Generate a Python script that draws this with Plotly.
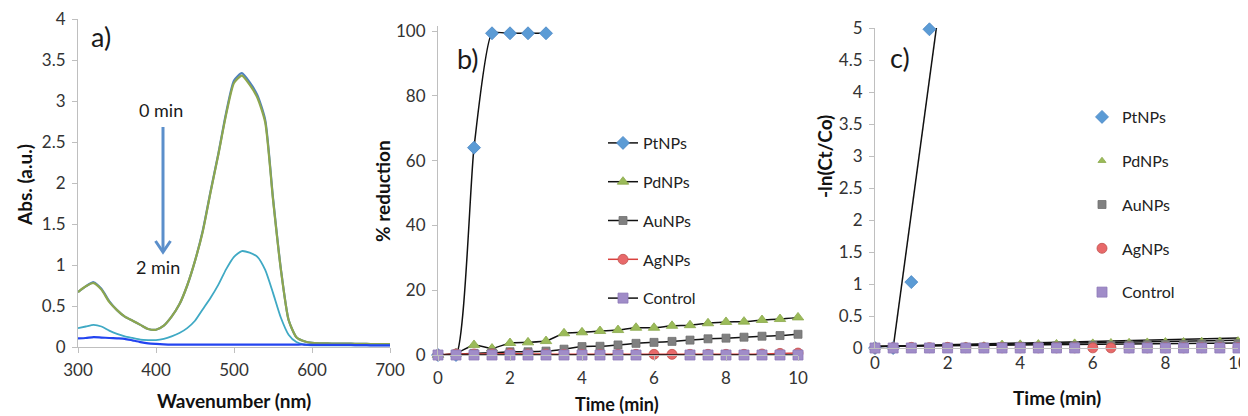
import plotly.graph_objects as go

# The page body has an 8px margin; the figure is sized/positioned to compensate.
OFF = 8
W, H = 1248 - OFF, 416 - OFF
def px(x): return (x - OFF) / W
def py(y): return 1 - (y - OFF) / H

FONT = "Lato"

# ---------------- panel a: UV-vis spectra ----------------
wavelength = [300, 310, 320, 330, 340, 350, 360, 370, 380, 390,
              400, 410, 420, 430, 440, 450, 460, 470, 480, 490,
              500, 510, 520, 530, 540, 550, 560, 570, 580, 590,
              600, 610, 620, 630, 640, 650, 660, 670, 680, 690, 700]
abs_0min = [0.67, 0.74, 0.79, 0.71, 0.56, 0.45, 0.37, 0.32, 0.27, 0.22,
            0.21, 0.26, 0.37, 0.52, 0.75, 1.05, 1.42, 1.90, 2.36, 2.86,
            3.25, 3.34, 3.23, 3.07, 2.77, 1.82, 0.96, 0.33, 0.12, 0.07,
            0.05, 0.045, 0.043, 0.042, 0.04, 0.04, 0.038, 0.037, 0.036, 0.035, 0.035]
abs_1min = [0.67, 0.74, 0.78, 0.70, 0.55, 0.45, 0.37, 0.32, 0.27, 0.22,
            0.21, 0.26, 0.37, 0.52, 0.75, 1.05, 1.41, 1.89, 2.35, 2.84,
            3.22, 3.31, 3.20, 3.04, 2.74, 1.80, 0.95, 0.33, 0.12, 0.07,
            0.05, 0.045, 0.043, 0.042, 0.04, 0.04, 0.038, 0.037, 0.036, 0.035, 0.035]
abs_1_5min = [0.23, 0.25, 0.27, 0.25, 0.20, 0.16, 0.13, 0.11, 0.09, 0.085,
              0.085, 0.10, 0.13, 0.17, 0.23, 0.32, 0.46, 0.60, 0.76, 0.95,
              1.10, 1.17, 1.15, 1.10, 0.94, 0.66, 0.36, 0.15, 0.06, 0.03,
              0.02, 0.02, 0.02, 0.02, 0.02, 0.02, 0.02, 0.02, 0.02, 0.02, 0.02]
abs_2min = [0.105, 0.11, 0.12, 0.115, 0.11, 0.105, 0.10, 0.08, 0.06, 0.045,
            0.038, 0.033, 0.03, 0.03, 0.03, 0.03, 0.03, 0.03, 0.03, 0.03,
            0.03, 0.03, 0.03, 0.03, 0.03, 0.03, 0.03, 0.03, 0.03, 0.03,
            0.025, 0.025, 0.025, 0.025, 0.025, 0.025, 0.022, 0.022, 0.02, 0.02, 0.02]

# ---------------- panel b: % reduction ----------------
time = [0, 0.5, 1, 1.5, 2, 2.5, 3, 3.5, 4, 4.5, 5, 5.5, 6, 6.5, 7, 7.5, 8, 8.5, 9, 9.5, 10]
time_pt = [0, 0.5, 1, 1.5, 2, 2.5, 3]
pt_b = [0, 0, 64, 99.3, 99.3, 99.3, 99.3]
pd_b = [0, 0.5, 3.1, 2.0, 3.7, 3.9, 4.3, 6.7, 7.0, 7.4, 7.7, 8.4, 8.4, 9.0, 9.2, 9.8, 10.2, 10.3, 10.8, 11.1, 11.6]
au_b = [0, 0.3, 0.5, 0.7, 1.0, 1.0, 1.2, 1.8, 2.6, 2.7, 3.1, 3.6, 3.9, 4.2, 4.6, 5.0, 5.2, 5.5, 5.8, 6.0, 6.4]
ag_b = [0, 0.3, 0.3, 0.3, 0.5, 0.3, 0.3, 0.2, 0.2, 0.2, 0.2, 0.2, 0.2, 0.2, 0.2, 0.2, 0.2, 0.2, 0.3, 0.5, 0.6]
ctrl_b = [0, 0, 0, 0, 0, 0, 0, 0, 0, 0, 0, 0, None, None, 0, 0, 0, 0, 0, 0, 0]

# ---------------- panel c: -ln(Ct/Co) ----------------
time_pt_c = [0, 0.5, 1, 1.5]
pt_c = [0, 0, 1.03, 4.98]
pd_c = [0, 0.005, 0.031, 0.020, 0.038, 0.040, 0.044, 0.069, 0.073, 0.077, 0.080,
        0.088, 0.088, 0.094, 0.097, 0.103, 0.108, 0.109, 0.114, 0.118, 0.123]
au_c = [0, 0.003, 0.005, 0.007, 0.010, 0.010, 0.012, 0.018, 0.026, 0.027, 0.031,
        0.037, 0.040, 0.043, 0.047, 0.051, 0.053, 0.057, 0.060, 0.062, 0.066]
ag_c = [0, 0.003, 0.01, 0.005, 0.01, 0.005, 0.005, 0.003, 0.003, 0.003, 0.003,
        0.003, 0.002, 0.002, 0.003, 0.003, 0.003, 0.003, 0.004, 0.006, 0.007]
ctrl_c = [0, 0, 0, 0, 0, 0, 0, 0, 0, 0, 0, 0, None, None, 0, 0, 0, 0, 0, 0, 0]

# linear trendlines (slope, intercept)
trend_names = ["PtNPs", "PdNPs", "AuNPs", "AgNPs"]
trend_slope = [4.2, 0.013, 0.0095, 0.0052]
trend_intercept = [-2.1, 0.025, 0.025, 0.025]
trend_x = [0, 10]

series_names = ["PtNPs", "PdNPs", "AuNPs", "AgNPs", "Control"]
marker_sym = ["diamond", "triangle-up", "square", "circle", "square"]
marker_col = ["#5B9BD5", "#9BBB59", "#808080", "#E8696A", "#A08CC8"]
marker_edge = ["#4A86C5", "#8AA84A", "#707070", "#C0504D", "#8E78B8"]
marker_size = [10, 10, 8, 10, 10]
line_col = ["#111111", "#111111", "#111111", "#D9413E", "#111111"]

fig = go.Figure()

# panel a traces
for ys, col, wd in [(abs_0min, "#4F81BD", 2.2), (abs_1min, "#8DA64E", 2.2),
                    (abs_1_5min, "#3FA9C4", 1.8), (abs_2min, "#2344F0", 2.2)]:
    fig.add_trace(go.Scatter(x=wavelength, y=ys, mode="lines",
                             line=dict(color=col, width=wd, shape="spline", smoothing=0.6),
                             showlegend=False, xaxis="x", yaxis="y", hoverinfo="skip"))

# panel b traces
b_x = [time_pt, time, time, time, time]
b_y = [pt_b, pd_b, au_b, ag_b, ctrl_b]
for i, name in enumerate(series_names):
    fig.add_trace(go.Scatter(
        x=b_x[i], y=b_y[i], mode="lines+markers", name=name,
        line=dict(color=line_col[i], width=1.5, shape="spline", smoothing=0.5),
        marker=dict(symbol=marker_sym[i], color=marker_col[i], size=marker_size[i],
                    line=dict(color=marker_edge[i], width=0.8)),
        connectgaps=True, cliponaxis=False,
        xaxis="x2", yaxis="y2", legend="legend", legendgroup="b" + name))

# panel c trendlines
for i, name in enumerate(trend_names):
    ty = [trend_slope[i] * t + trend_intercept[i] for t in trend_x]
    fig.add_trace(go.Scatter(x=trend_x, y=ty, mode="lines",
                             line=dict(color="#111111", width=1.5),
                             showlegend=False, xaxis="x3", yaxis="y3", hoverinfo="skip"))

# panel c markers
c_x = [time_pt_c, time, time, time, time]
c_y = [pt_c, pd_c, au_c, ag_c, ctrl_c]
c_size = [10, 7, 8, 10, 10]
for i, name in enumerate(series_names):
    fig.add_trace(go.Scatter(
        x=c_x[i], y=c_y[i], mode="markers", name=name,
        marker=dict(symbol=marker_sym[i], color=marker_col[i], size=c_size[i],
                    line=dict(color=marker_edge[i], width=0.8)),
        cliponaxis=False,
        xaxis="x3", yaxis="y3", legend="legend2", legendgroup="c" + name))

def ax(**kw):
    d = dict(showline=True, linecolor="#BFBFBF", linewidth=1, ticks="outside",
             ticklen=5, tickcolor="#BFBFBF", showgrid=False, zeroline=False,
             automargin=False, ticklabeloverflow="allow",
             tickfont=dict(family=FONT, size=17, color="#333333"))
    d.update(kw)
    return d

fig.update_layout(
    width=W, height=H, autosize=False,
    margin=dict(l=0, r=0, t=0, b=0, pad=0),
    paper_bgcolor="white", plot_bgcolor="white",
    font=dict(family=FONT, color="#222222"),
    xaxis=ax(domain=[px(78), px(390)], range=[300, 700], dtick=100, tick0=300,
             anchor="y", ticklabelstandoff=3),
    yaxis=ax(domain=[py(347), py(19)], range=[0, 4], dtick=0.5, anchor="x",
             ticklabelstandoff=3),
    xaxis2=ax(domain=[px(438), px(798)], range=[0, 10], dtick=2, anchor="y2",
              ticklabelstandoff=3),
    yaxis2=ax(domain=[py(355), py(355 - 101.5 * 3.24)], range=[0, 101.5],
              tickvals=[0, 20, 40, 60, 80, 100], anchor="x2", ticklabelstandoff=3),
    xaxis3=ax(domain=[px(875), px(1238)], range=[0, 10], dtick=2, anchor="y3",
              ticks="", ticklen=0, ticklabelstandoff=0),
    yaxis3=ax(domain=[py(348), py(28)], range=[0, 5], dtick=0.5, anchor="x3",
              ticklabelstandoff=3),
    legend=dict(x=px(603), y=py(126), xanchor="left", yanchor="top",
                font=dict(family=FONT, size=16, color="#222222"),
                tracegroupgap=15, bgcolor="rgba(0,0,0,0)", itemwidth=30),
    legend2=dict(x=px(1082), y=py(100), xanchor="left", yanchor="top",
                 font=dict(family=FONT, size=16, color="#222222"),
                 tracegroupgap=20, bgcolor="rgba(0,0,0,0)", itemwidth=30),
)

annotations = [
    dict(text="a)", x=px(101), y=py(37), size=27),
    dict(text="b)", x=px(468), y=py(58), size=27),
    dict(text="c)", x=px(900), y=py(57), size=27),
    dict(text="0 min", x=px(161), y=py(110), size=18),
    dict(text="2 min", x=px(158), y=py(267), size=18),
]
fig_ann = []
for a in annotations:
    fig_ann.append(dict(text=a["text"], x=a["x"], y=a["y"], xref="paper", yref="paper",
                        xanchor="center", yanchor="middle", showarrow=False,
                        font=dict(family=FONT, size=a["size"], color="#1a1a1a")))
titles = [
    ("Abs. (a.u.)", 24, 185, -90, 19),
    ("Wavenumber (nm)", 234, 400, 0, 19),
    ("% reduction", 383, 191, -90, 19),
    ("Time (min)", 617, 404, 0, 18),
    ("-ln(Ct/Co)", 824, 157, -90, 19),
    ("Time (min)", 1057, 397, 0, 19),
]
for t, x, y, ang, fs in titles:
    fig_ann.append(dict(text="<b>" + t + "</b>", x=px(x), y=py(y), xref="paper", yref="paper",
                        xanchor="center", yanchor="middle", showarrow=False, textangle=ang,
                        font=dict(family=FONT, size=fs, color="#111111")))
fig.update_layout(annotations=fig_ann)

# arrow 0 min -> 2 min
arrow_col = "#5B8FCB"
fig.update_layout(shapes=[
    dict(type="line", xref="paper", yref="paper", x0=px(163), x1=px(163), y0=py(127), y1=py(251),
         line=dict(color=arrow_col, width=3)),
    dict(type="path", xref="paper", yref="paper",
         path=f"M {px(155.5)},{py(241)} L {px(163)},{py(252)} L {px(170.5)},{py(241)}",
         line=dict(color=arrow_col, width=3)),
])

fig.write_html("out.html")
